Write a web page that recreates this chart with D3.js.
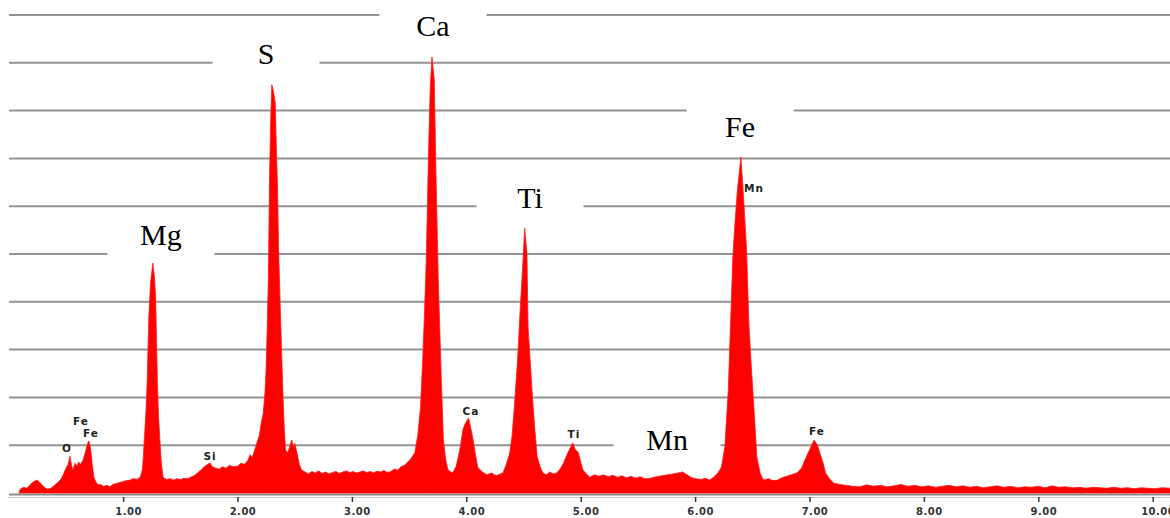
<!DOCTYPE html>
<html>
<head>
<meta charset="utf-8">
<script src="https://cdn.jsdelivr.net/npm/d3@7"></script>
<style>
  body { margin: 0; background: #fff; }
  svg { display: block; }
</style>
</head>
<body>
<div id="chart"></div>
<script>
// EDS spectrum: energy (keV) and counts (arbitrary, grid every 100)
const spectrumKeV = [
  0.09,0.10,0.13,0.16,0.19,0.22,0.25,0.28,0.31,0.34,0.37,0.40,0.43,0.46,0.48,0.50,0.52,0.535,0.55,0.56,
  0.58,0.60,0.61,0.63,0.65,0.67,0.69,0.70,0.715,0.73,0.745,0.76,0.78,0.80,0.83,0.86,0.885,0.91,0.94,0.97,
  1.00,1.03,1.06,1.09,1.12,1.15,1.17,1.18,1.20,1.21,1.225,1.24,1.26,1.275,1.285,1.30,1.31,1.32,1.335,1.35,
  1.38,1.41,1.44,1.47,1.50,1.53,1.56,1.59,1.62,1.65,1.68,1.71,1.74,1.76,1.78,1.81,1.84,1.87,1.90,1.93,
  1.96,2.00,2.03,2.06,2.09,2.11,2.13,2.15,2.17,2.19,2.21,2.225,2.24,2.25,2.26,2.27,2.28,2.29,2.30,2.315,
  2.33,2.34,2.35,2.36,2.37,2.38,2.39,2.40,2.41,2.42,2.44,2.46,2.475,2.49,2.50,2.52,2.54,2.56,2.59,2.62,
  2.65,2.68,2.71,2.74,2.77,2.80,2.83,2.86,2.89,2.92,2.95,2.98,3.01,3.04,3.07,3.10,3.13,3.16,3.19,3.22,
  3.25,3.28,3.31,3.34,3.37,3.40,3.43,3.46,3.48,3.51,3.55,3.575,3.60,3.62,3.635,3.65,3.67,3.685,3.70,3.72,
  3.735,3.755,3.78,3.80,3.82,3.84,3.88,3.91,3.93,3.95,3.97,3.99,4.02,4.04,4.06,4.08,4.10,4.14,4.18,4.22,
  4.26,4.30,4.32,4.35,4.38,4.40,4.42,4.45,4.47,4.49,4.51,4.53,4.54,4.56,4.58,4.60,4.62,4.65,4.67,4.70,
  4.73,4.76,4.79,4.82,4.85,4.88,4.91,4.93,4.95,4.98,5.00,5.02,5.05,5.08,5.12,5.16,5.20,5.24,5.28,5.32,
  5.36,5.40,5.44,5.48,5.52,5.56,5.61,5.66,5.71,5.76,5.81,5.85,5.89,5.93,5.97,6.01,6.05,6.09,6.13,6.17,
  6.20,6.23,6.26,6.29,6.31,6.33,6.35,6.37,6.40,6.42,6.45,6.47,6.49,6.51,6.54,6.57,6.60,6.64,6.68,6.72,
  6.76,6.80,6.84,6.89,6.93,6.96,7.00,7.04,7.07,7.09,7.12,7.14,7.18,7.21,7.26,7.32,7.38,7.44,7.50,7.56,
  7.62,7.68,7.74,7.80,7.86,7.92,7.98,8.04,8.10,8.16,8.22,8.28,8.34,8.40,8.46,8.52,8.58,8.64,8.70,8.76,
  8.82,8.88,8.94,9.00,9.06,9.12,9.18,9.24,9.30,9.36,9.42,9.48,9.54,9.60,9.66,9.72,9.78,9.84,9.90,9.96,
  10.02,10.08,10.16
];
const spectrumCounts = [
  0,8,12,10,18,24,27,20,12,8,10,16,22,30,40,52,60,77,58,48,
  62,56,65,60,69,85,104,109,95,60,33,24,17,18,14,16,13,18,20,22,
  24,26,27,30,29,33,50,90,170,230,368,440,481,450,404,230,160,117,60,33,
  28,30,27,30,28,31,30,33,36,42,48,55,60,63,55,52,50,55,52,58,
  55,56,62,60,68,80,75,90,105,120,150,167,210,257,350,452,661,780,854,840,
  816,720,640,502,420,341,260,188,130,90,84,100,111,95,104,84,60,48,44,40,
  45,42,46,41,44,40,43,45,41,44,46,43,45,42,44,46,43,45,42,46,
  44,47,43,45,50,48,55,58,63,70,84,120,180,285,380,487,717,850,912,864,
  669,446,251,111,70,48,42,55,75,100,132,145,157,135,111,80,54,44,38,42,
  36,40,42,60,84,120,180,285,380,460,554,502,347,270,195,130,75,52,42,38,
  44,40,42,50,63,80,95,105,92,84,65,48,40,33,38,35,38,34,37,33,
  36,32,35,31,34,30,31,34,36,38,40,42,44,38,32,30,28,31,27,35,
  42,54,96,215,356,494,570,634,703,634,508,356,270,195,75,40,27,30,26,27,
  32,35,38,42,52,69,90,111,100,84,62,42,28,21,18,16,14,13,17,14,
  16,13,15,18,14,16,13,15,12,14,16,13,15,12,14,11,13,15,12,14,
  11,13,12,14,11,15,12,13,11,12,10,12,11,10,12,10,11,9,11,10,
  9,11,10
];

// x axis ticks (keV)
const tickKeV = [1, 2, 3, 4, 5, 6, 7, 8, 9, 10];
// horizontal grid levels (counts)
const gridCounts = [100, 200, 300, 400, 500, 600, 700, 800, 900, 1000];

// large element labels: name, keV, counts at text baseline
const bigLabels = [
  {name: "Ca", kev: 3.709, c: 956},
  {name: "S",  kev: 2.249, c: 897},
  {name: "Fe", kev: 6.393, c: 745},
  {name: "Ti", kev: 4.557, c: 596},
  {name: "Mg", kev: 1.331, c: 519},
  {name: "Mn", kev: 5.755, c: 90}
];
// small peak markers
const smallLabels = [
  {name: "Fe", kev: 0.632, c: 142},
  {name: "Fe", kev: 0.719, c: 117},
  {name: "O",  kev: 0.510, c: 86},
  {name: "Si", kev: 1.760, c: 69},
  {name: "Ca", kev: 4.041, c: 163},
  {name: "Ti", kev: 4.941, c: 115},
  {name: "Mn", kev: 6.515, c: 630},
  {name: "Fe", kev: 7.066, c: 121}
];

const width = 1170, height = 518;

const svg = d3.select("#chart")
              .append("svg")
              .attr("width", width)
              .attr("height", height)
              .style("background", "#fff");

const x = d3.scaleLinear().domain([0, 10]).range([8.7, 1152.7]);
const y = d3.scaleLinear().domain([0, 1000]).range([493, 15]);

// grid
svg.append("g")
   .selectAll("line")
   .data(gridCounts)
   .enter().append("line")
   .attr("x1", 9)
   .attr("x2", width)
   .attr("y1", d => y(d))
   .attr("y2", d => y(d))
   .attr("stroke", "#939393")
   .attr("stroke-width", 2);

// white boxes behind the big labels (they hide the grid)
svg.append("g")
   .selectAll("rect")
   .data(bigLabels)
   .enter().append("rect")
   .attr("x", d => x(d.kev) - 53.5)
   .attr("y", d => y(d.c) - 30)
   .attr("width", 107)
   .attr("height", 42)
   .attr("fill", "#fff");

// baseline double line
svg.append("line")
   .attr("x1", 9).attr("x2", width)
   .attr("y1", y(0) + 1.5).attr("y2", y(0) + 1.5)
   .attr("stroke", "#8a8a8a").attr("stroke-width", 2);
svg.append("line")
   .attr("x1", 9).attr("x2", width)
   .attr("y1", y(0) + 4.5).attr("y2", y(0) + 4.5)
   .attr("stroke", "#c4c4c4").attr("stroke-width", 1);

// spectrum
const spectrum = spectrumKeV.map((k, i) => [k, spectrumCounts[i]]);
const area = d3.area()
               .x(d => x(d[0]))
               .y0(y(0))
               .y1(d => y(d[1]))
               .curve(d3.curveLinear);

svg.append("path")
   .datum(spectrum)
   .attr("d", area)
   .attr("fill", "#ff0000")
   .attr("stroke", "#ff1a1a")
   .attr("stroke-width", 0.8)
   .attr("stroke-linejoin", "miter");

// x axis
const axis = svg.append("g")
                .attr("transform", `translate(0,${y(0) + 4})`)
                .call(d3.axisBottom(x)
                        .tickValues(tickKeV)
                        .tickSize(5)
                        .tickFormat(d3.format(".2f")));
axis.select(".domain").remove();
axis.selectAll(".tick line")
    .attr("stroke", "#333")
    .attr("stroke-width", 1.5);
axis.selectAll(".tick text")
    .attr("x", 5)
    .attr("y", 11)
    .attr("dy", "0.71em")
    .attr("font-family", "DejaVu Sans, sans-serif")
    .attr("font-weight", "bold")
    .attr("font-size", 10)
    .attr("letter-spacing", 0.5)
    .attr("fill", "#333");

// big labels
svg.append("g")
   .selectAll("text")
   .data(bigLabels)
   .enter().append("text")
   .attr("x", d => x(d.kev))
   .attr("y", d => y(d.c))
   .attr("text-anchor", "middle")
   .attr("font-family", "Liberation Serif, Times New Roman, serif")
   .attr("font-size", 30)
   .attr("fill", "#000")
   .text(d => d.name);

// small labels
svg.append("g")
   .selectAll("text")
   .data(smallLabels)
   .enter().append("text")
   .attr("x", d => x(d.kev))
   .attr("y", d => y(d.c))
   .attr("text-anchor", "middle")
   .attr("font-family", "DejaVu Sans, sans-serif")
   .attr("font-weight", "bold")
   .attr("font-size", 10.5)
   .attr("letter-spacing", 1)
   .attr("fill", "#222")
   .text(d => d.name);
</script>
</body>
</html>
